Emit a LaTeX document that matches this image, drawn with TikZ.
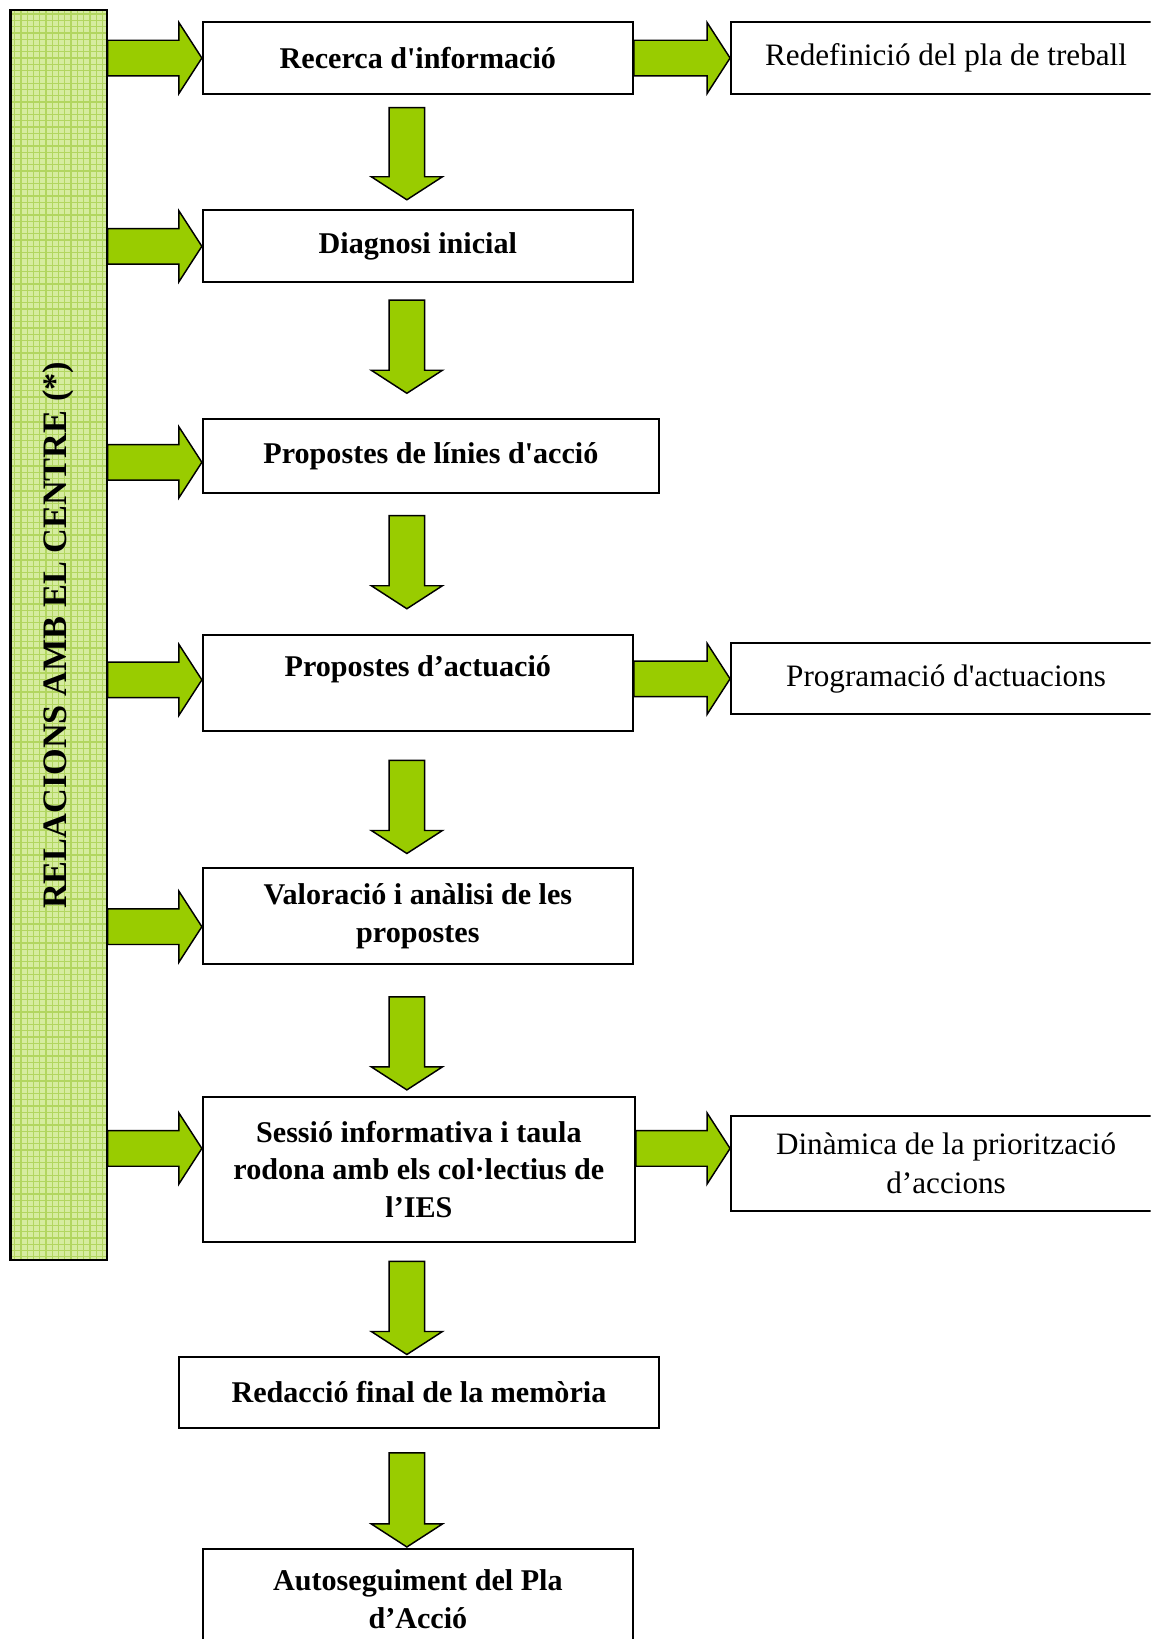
\documentclass[tikz,border=0pt]{standalone}
\usepackage{fontspec}
\newfontfamily\boxFont{Liberation Serif}
\usetikzlibrary{calc}
\definecolor{arrowGreen}{RGB}{153,204,0}
\definecolor{barGreen}{RGB}{214,236,160}
\definecolor{gridGreen}{RGB}{178,214,96}

\begin{document}
\begin{tikzpicture}[%%
  x=0.5pt,y=-0.5pt,
  mainBox/.style={draw,line width=1pt,fill=white,inner sep=0pt,align=center,
    font=\boxFont\fontsize{14.4}{18}\selectfont\bfseries},
  sideBox/.style={draw,line width=1pt,fill=white,inner sep=0pt,align=center,
    font=\boxFont\fontsize{14.9}{18.5}\selectfont},
  gridStyle/.style={gridGreen,line width=0.6pt,step=3pt},
  barStyle/.style={draw,line width=1pt,fill=barGreen,inner sep=0pt,
    path picture={\draw[gridStyle] (path picture bounding box.south west)
      grid (path picture bounding box.north east);}},
  rightArrow/.style={draw=black,line width=0.7pt,fill=arrowGreen,
    to path={let \p1=(\tikztostart), \p2=(\tikztotarget) in
      (\x1,\y1+8.5pt) -- (\x2-11pt,\y1+8.5pt) -- (\x2-11pt,\y1+17pt)
      -- (\x2,\y1) -- (\x2-11pt,\y1-17pt) -- (\x2-11pt,\y1-8.5pt)
      -- (\x1,\y1-8.5pt) -- cycle}},
  downArrow/.style={draw=black,line width=0.7pt,fill=arrowGreen,
    to path={let \p1=(\tikztostart), \p2=(\tikztotarget) in
      (\x1-8.5pt,\y1) -- (\x1+8.5pt,\y1) -- (\x1+8.5pt,\y2+11pt)
      -- (\x1+17pt,\y2+11pt) -- (\x1,\y2) -- (\x1-17pt,\y2+11pt)
      -- (\x1-8.5pt,\y2+11pt) -- cycle}}
]
%%
%% The page.
\useasboundingbox (0,0) rectangle (1100,1567);
\fill[white] (0,0) rectangle (1100,1567);
\clip (0,0) rectangle (1100,1567);
%%
%% The bar on the left.
\node[barStyle,minimum width=46pt,minimum height=597.5pt] (bar) at (56,607.5) {};
\node[rotate=90,font=\boxFont\fontsize{16.4}{19}\selectfont\bfseries] (barText)
  at (bar.center) {RELACIONS AMB EL CENTRE (*)};
%%
%% The steps.
\node[mainBox,minimum width=205.5pt,minimum height=34.5pt] (b1) at (399.5,55.5)
  {Recerca d'informació};
\node[mainBox,minimum width=205.5pt,minimum height=34.5pt] (b2) at (399.5,235.5)
  {Diagnosi inicial};
\node[mainBox,minimum width=218pt,minimum height=35pt] (b3) at (412,436)
  {Propostes de línies d'acció};
\node[mainBox,minimum width=205.5pt,text height=20pt,text depth=26pt] (b4)
  at (399.5,653) {Propostes d’actuació};
\node[mainBox,minimum width=205.5pt,minimum height=46pt] (b5) at (399.5,876)
  {Valoració i anàlisi de les\\propostes};
\node[mainBox,minimum width=206.5pt,minimum height=69pt] (b6) at (400.5,1118)
  {Sessió informativa i taula\\rodona amb els col·lectius de\\l’IES};
\node[mainBox,minimum width=229.5pt,minimum height=34pt] (b7) at (400.5,1331)
  {Redacció final de la memòria};
\node[mainBox,minimum width=205.5pt,minimum height=48pt] (b8) at (399.5,1529)
  {Autoseguiment del Pla\\d’Acció};
%%
%% The boxes on the right.
\node[sideBox,minimum width=205.5pt,minimum height=34.5pt] (r1) at (904.5,55.5)
  {Redefinició del pla de treball};
\node[sideBox,minimum width=205.5pt,minimum height=34pt] (r2) at (904.5,649)
  {Programació d'actuacions};
\node[sideBox,minimum width=205.5pt,minimum height=45.5pt] (r3) at (904.5,1112.5)
  {Dinàmica de la priorització\\d’accions};
%%
%% Arrows from the bar.
\coordinate (in1) at (b1.west);
\coordinate (in2) at (b2.west);
\coordinate (in3) at ([yshift=-3pt]b3.west);
\coordinate (in4) at ([yshift=1.5pt]b4.west);
\coordinate (in5) at ([yshift=-5pt]b5.west);
\coordinate (in6) at ([yshift=10pt]b6.west);
\foreach \i in {1,...,6}
  \draw[rightArrow] (bar.east |- in\i) to (in\i);
%%
%% Arrows to the right.
\coordinate (out3) at ([yshift=7.25pt]r3.west);
\draw[rightArrow] (b1.east) to (r1.west);
\draw[rightArrow] (b4.east |- r2.west) to (r2.west);
\draw[rightArrow] (b6.east |- out3) to (out3);
%%
%% Arrows down the column.
\coordinate (axis) at (389,0);
\foreach \from/\to/\gapA/\gapB in
  {b1/b2/12/9, b2/b3/16/24, b3/b4/21/24, b4/b5/27/13,
   b5/b6/30/6, b6/b7/18/1, b7/b8/23/1}
  \draw[downArrow] ($(\from.south -| axis)+(0,\gapA)$)
    to ($(\to.north -| axis)+(0,-\gapB)$);
\end{tikzpicture}
\end{document}
